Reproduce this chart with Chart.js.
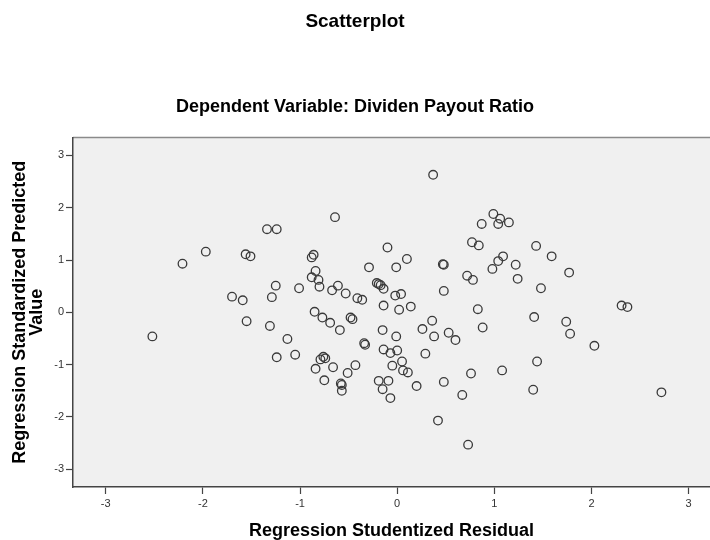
<!DOCTYPE html>
<html>
<head>
<meta charset="utf-8">
<script src="https://cdn.jsdelivr.net/npm/chart.js@4.4.1/dist/chart.umd.min.js"></script>
<style>
  html, body { margin: 0; padding: 0; background: #fff; }
  #wrap { width: 710px; height: 540px; }
</style>
</head>
<body>
<div id="wrap"><canvas id="scatterChart" width="710" height="540"></canvas></div>
<script>
// Regression Studentized Residual (x) / Regression Standardized Predicted Value (y)
var residuals = [
  -2.52, -2.21, -1.97, -1.34, -1.24, -1.56, -1.51, -1.25, -1.01, -1.70,
  -1.59, -1.29, -1.55, -1.31, -1.13, -1.24, -1.05, 0.37, -0.64, 0.99,
  1.06, 1.04, 0.87, 1.15, -0.10, 0.77, 0.84, 0.10, -0.86, -0.88,
  1.04, 1.09, 0.98, 0.47, 0.48, -0.29, -0.01, -0.84, -0.88, -0.81,
  -0.80, -0.61, -0.67, -0.53, -0.21, -0.19, -0.17, -0.14, -0.41, -0.36,
  -0.02, 0.04, 0.72, 0.78, 0.48, -0.14, 0.02, 0.14, 0.83, -0.85,
  1.43, 1.59, 1.22, 1.24, 1.77, 1.48, 2.31, 2.37, 1.41, -0.77,
  -0.69, -0.59, -0.48, -0.46, 0.36, 0.26, 0.38, 0.53, 0.60, 0.88,
  -0.15, -0.01, -0.34, -0.33, -0.14, -0.07, 0.00, 0.29, -0.76, -0.74,
  -0.79, -0.84, -0.66, -0.43, -0.51, -0.75, -0.58, -0.57, -0.57, -0.05,
  0.05, 0.06, 0.11, -0.19, -0.09, -0.15, -0.07, 0.20, 0.48, 0.76,
  0.67, 1.08, 0.42, 0.73, 1.74, 1.78, 2.03, 1.44, 1.40, 2.72
];
var predicted = [
  -0.46, 0.93, 1.16, 1.59, 1.59, 1.11, 1.07, 0.51, 0.46, 0.30,
  0.23, 0.29, -0.17, -0.26, -0.51, -0.86, -0.81, 2.63, 1.82, 1.88,
  1.79, 1.69, 1.69, 1.72, 1.24, 1.34, 1.28, 1.02, 1.10, 1.05,
  0.98, 1.07, 0.83, 0.92, 0.91, 0.86, 0.86, 0.79, 0.67, 0.62,
  0.49, 0.51, 0.42, 0.36, 0.56, 0.54, 0.52, 0.45, 0.27, 0.24,
  0.32, 0.35, 0.70, 0.62, 0.41, 0.13, 0.05, 0.11, 0.06, 0.01,
  1.27, 1.07, 0.91, 0.64, 0.76, 0.46, 0.13, 0.10, -0.09, -0.10,
  -0.20, -0.34, -0.10, -0.13, -0.16, -0.32, -0.46, -0.39, -0.53, -0.29,
  -0.34, -0.46, -0.59, -0.62, -0.71, -0.78, -0.73, -0.79, -0.85, -0.88,
  -0.90, -1.08, -1.05, -1.01, -1.16, -1.30, -1.36, -1.39, -1.50, -1.02,
  -0.94, -1.11, -1.15, -1.31, -1.31, -1.47, -1.64, -1.41, -1.33, -1.17,
  -1.58, -1.11, -2.07, -2.53, -0.18, -0.41, -0.64, -0.94, -1.48, -1.53
];
var xTicks = [-3, -2, -1, 0, 1, 2, 3];
var yTicks = [-3, -2, -1, 0, 1, 2, 3];

var points = residuals.map(function (r, i) {
  return { x: r, y: predicted[i] };
});

// grey plot area with a top rule, like SPSS
var plotBackground = {
  id: 'plotBackground',
  beforeDraw: function (chart) {
    var c = chart.ctx, a = chart.chartArea;
    c.save();
    c.fillStyle = '#f0f0f0';
    c.fillRect(a.left, a.top, a.right - a.left, a.bottom - a.top);
    c.strokeStyle = '#8a8a8a';
    c.lineWidth = 1.5;
    c.beginPath();
    c.moveTo(a.left, a.top);
    c.lineTo(a.right, a.top);
    c.stroke();
    c.restore();
  }
};

var ctx = document.getElementById('scatterChart').getContext('2d');
var scatterChart = new Chart(ctx, {
  type: 'scatter',
  data: {
    datasets: [{
      data: points,
      pointStyle: 'circle',
      pointRadius: 4.3,
      pointBorderWidth: 1.3,
      pointBorderColor: '#3a3a3a',
      pointBackgroundColor: 'rgba(0,0,0,0)',
      pointHoverRadius: 4.3
    }]
  },
  options: {
    responsive: false,
    animation: false,
    layout: { padding: 0, autoPadding: false },
    plugins: {
      legend: { display: false },
      tooltip: { enabled: false },
      title: {
        display: true,
        text: 'Scatterplot',
        color: '#000',
        font: { family: 'Liberation Sans', size: 19, weight: 'bold', lineHeight: 1.2 },
        padding: { top: 10, bottom: 0 }
      },
      subtitle: {
        display: true,
        text: 'Dependent Variable: Dividen Payout Ratio',
        color: '#000',
        font: { family: 'Liberation Sans', size: 18, weight: 'bold', lineHeight: 1.2 },
        padding: { top: 63, bottom: 20 }
      }
    },
    scales: {
      x: {
        type: 'linear',
        min: -3.337,
        max: 3.22,
        afterFit: function (scale) {
          scale.height = 53;
          scale.paddingLeft = 0;
          scale.paddingRight = 0;
        },
        afterBuildTicks: function (scale) {
          scale.ticks = xTicks.map(function (v) { return { value: v }; });
        },
        border: { display: true, color: '#444', width: 1.5 },
        grid: { drawOnChartArea: false, drawTicks: true, tickLength: 7, color: '#444', tickWidth: 1.2 },
        ticks: {
          color: '#333',
          padding: 3,
          maxRotation: 0,
          font: { family: 'Liberation Sans', size: 11 }
        },
        title: {
          display: true,
          text: 'Regression Studentized Residual',
          color: '#000',
          font: { family: 'Liberation Sans', size: 18, weight: 'bold', lineHeight: 1.0 },
          padding: { top: 0, bottom: 0 }
        }
      },
      y: {
        type: 'linear',
        min: -3.34,
        max: 3.345,
        afterFit: function (scale) { scale.width = 73; },
        afterBuildTicks: function (scale) {
          scale.ticks = yTicks.map(function (v) { return { value: v }; });
        },
        border: { display: true, color: '#444', width: 1.5 },
        grid: { drawOnChartArea: false, drawTicks: true, tickLength: 7, color: '#444', tickWidth: 1.2 },
        ticks: {
          color: '#333',
          padding: 2,
          font: { family: 'Liberation Sans', size: 11 }
        },
        title: {
          display: true,
          text: ['Regression Standardized Predicted', 'Value'],
          color: '#000',
          font: { family: 'Liberation Sans', size: 18, weight: 'bold', lineHeight: 0.92 },
          padding: { top: 12, bottom: 0 }
        }
      }
    }
  },
  plugins: [plotBackground]
});
</script>
</body>
</html>
